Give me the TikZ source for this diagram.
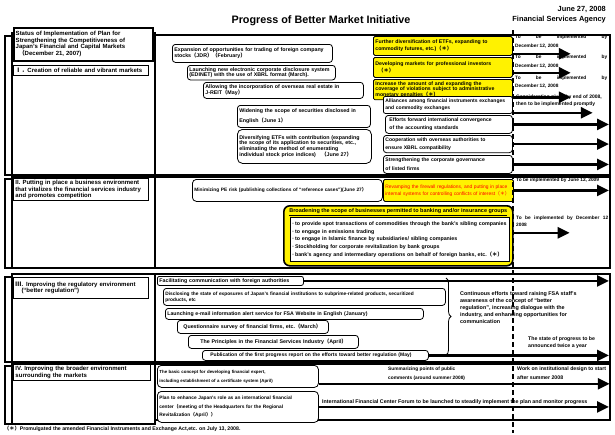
\documentclass[tikz,border=0pt]{standalone}
\usepackage{fontspec}
\setmainfont{Liberation Sans}
\newfontfamily\cjk{Noto Sans CJK JP}
\usetikzlibrary{arrows.meta,decorations.pathreplacing}

\newcommand\fwl{{\cjk （}}
\newcommand\fwr{{\cjk ）}}
\newcommand\fwstar{{\cjk （＊）}}
\newcommand\fsz[2]{\fontsize{#1}{#2}\selectfont}
\newcommand\spread[2]{\makebox[#1][s]{#2}}

\tikzset{
	panel/.style={line width=1.1pt},
	header/.style={draw, line width=1pt, fill=white, anchor=north west, align=left, inner sep=2pt, font=\fsz{6}{6.4}\bfseries},
	item/.style={draw, line width=0.8pt, rounded corners=3pt, fill=white, anchor=north west, align=left, inner sep=2pt, font=\fsz{5.3}{6}\bfseries},
	yitem/.style={item, fill=yellow, rounded corners=1.5pt, font=\fsz{5.2}{5.4}\bfseries},
	note/.style={anchor=north west, align=left, inner sep=0pt, font=\fsz{4.8}{8.5}\bfseries},
	bigarrow/.style={line width=2.6pt, -{Triangle[length=12pt,width=11pt]}},
	dashline/.style={line width=1.5pt, dash pattern=on 5pt off 3pt}
}

\begin{document}
\begin{tikzpicture}[x=1pt, y=-1pt]
		\useasboundingbox (0,0) rectangle (615,434);
		% Coordinates
		\coordinate (rim) at (609,0);
		
		% Title
		\node[font=\fsz{10.8}{12}\bfseries] (title) at (321,21) {Progress of Better Market Initiative};
		\node[anchor=east, inner sep=0pt, font=\fsz{7.4}{8}\bfseries] (date) at (606,9) {June 27, 2008};
		\node[anchor=east, inner sep=0pt, font=\fsz{7.4}{8}\bfseries] (fsa) at (606,19.5) {Financial Services Agency};
		
		% Section frames
		\draw[panel] (12,33) rectangle (155,175);
		\draw[panel] (12,36) -| (5,175) -- (12,175);
		\draw[panel] (155,35) rectangle (610,175);
		\draw[panel] (12,177) rectangle (155,268);
		\draw[panel] (12,179) -| (5,268) -- (12,268);
		\draw[panel] (155,177) rectangle (610,268);
		\draw[panel] (12,274) rectangle (155,362);
		\draw[panel] (12,277) -| (5,362) -- (12,362);
		\draw[panel] (155,274) rectangle (610,362);
		\draw[panel] (12,364) rectangle (155,424);
		\draw[panel] (12,366) -| (5,424) -- (12,424);
		\draw[panel] (155,364) rectangle (610,420);
		
		% Left headers
		\node[header, line width=1.5pt, text width=135pt, minimum height=33pt] (plan) at (13,27) {Status of Implementation of Plan for\\Strengthening the Competitiveness of\\Japan's Financial and Capital Markets\\\hspace{3pt}\fwl December 21, 2007)};
		\node[header, text width=131pt, minimum height=10pt] (sec1) at (13,65) {{\cjk Ⅰ．}Creation of reliable and vibrant markets};
		\node[header, text width=131pt, minimum height=22pt] (sec2) at (13,178) {II. Putting in place a business environment\\that vitalizes the financial services industry\\and promotes competition};
		\node[header, text width=131pt, minimum height=21pt] (sec3) at (13,277) {{\cjk Ⅲ}. Improving the regulatory environment\\\hspace{6pt}(``better regulation'')};
		\node[header, text width=133pt, minimum height=16pt] (sec4) at (13,364) {IV. Improving the broader environment\\surrounding the markets};
		
		% Section I
		\node[item, text width=156pt, minimum height=18pt] (jdr) at (172,44) {Expansion of opportunities for trading of foreign company\\stocks\fwl JDR\fwr\fwl February\fwr};
		\node[item, text width=144pt, minimum height=13pt, font=\fsz{5.3}{5.6}\bfseries] (edinet) at (187,65) {Launching new electronic corporate disclosure system\\(EDINET) with the use of XBRL format (March).};
		\node[item, text width=156pt, minimum height=16pt] (jreit) at (203,82) {Allowing the incorporation of overseas real estate in\\J-REIT\fwl May\fwr};
		\node[item, text width=129pt, minimum height=22pt, font=\fsz{5.3}{10}\bfseries] (english) at (237,105) {\spread{129pt}{Widening the scope of securities disclosed in}\\English\fwl June 1\fwr};
		\node[item, text width=130pt, minimum height=34pt, rounded corners=5pt, font=\fsz{5.3}{5.7}\bfseries] (etfs) at (237,129) {Diversifying ETFs with contribution (expanding\\the scope of its application to securities, etc.,\\eliminating the method of enumerating\\individual stock price indices)\quad\fwl June 27\fwr};
		
		\node[yitem, text width=135pt, minimum height=19pt] (etfcom) at (373,36) {Further diversification of ETFs, expanding to\\commodity futures, etc.)\fwstar};
		\node[yitem, text width=135pt, minimum height=20pt, font=\fsz{5.2}{7}\bfseries] (proinv) at (373,57) {\spread{135pt}{Developing markets for professional investors}\\\hspace{3pt}\fwstar};
		\node[yitem, text width=135pt, minimum height=16pt, font=\fsz{5.2}{5}\bfseries] (penalty) at (373,79) {Increase the amount of and expanding the\\coverage of violations subject to administrative\\monetary penalties\fwstar};
		\node[item, text width=125pt, minimum height=17pt, rounded corners=2pt, font=\fsz{5}{6.5}\bfseries] (alliance) at (383,96) {Alliances among financial instruments exchanges\\and commodity exchanges};
		\node[item, text width=123pt, minimum height=18pt, font=\fsz{5.1}{8.5}\bfseries] (convergence) at (385,115) {\hspace{2pt}Efforts forward international convergence\\\hspace{2pt}of the accounting standards};
		\node[item, text width=125pt, minimum height=17pt, font=\fsz{5.1}{8.5}\bfseries] (xbrl) at (383,135) {Cooperation with overseas authorities to\\ensure XBRL compatibility};
		\node[item, text width=125pt, minimum height=18pt, font=\fsz{5.1}{8.5}\bfseries] (governance) at (383,155) {Strengthening the corporate governance\\of listed firms};
		
		\node[note] (due1) at (515,35) {\spread{92pt}{To be implemented by}\\December 12, 2008};
		\node[note] (due2) at (515,55) {\spread{92pt}{To be implemented by}\\December 12, 2008};
		\node[note] (due3) at (515,75.5) {\spread{92pt}{To be implemented by}\\December 12, 2008};
		\node[note, font=\fsz{5}{7}\bfseries] (consider) at (516,95) {Consideration given by end of 2008,\\then to be implemented promptly};
		
		\draw[bigarrow] ([yshift=2pt]etfcom.south east) -- ++(58,0);
		\draw[bigarrow] ([yshift=5pt]proinv.south east) -- ++(58,0);
		\draw[bigarrow] ([yshift=3pt]penalty.south east) -- ++(58,0);
		\draw[bigarrow] ([yshift=1pt]alliance.south east) -- ++(80,0);
		\draw[bigarrow] (convergence.east) -- (convergence.east -| rim);
		\draw[bigarrow] (xbrl.east) -- (xbrl.east -| rim);
		\draw[bigarrow] (governance.east) -- (governance.east -| rim);
		
		% Section II
		\node[item, text width=186pt, minimum height=22pt, rounded corners=4pt, font=\fsz{4.8}{6}\bfseries] (pe) at (192,179) {Minimizing PE risk (publishing collections of ``reference cases'')(June 27\fwr};
		\node[yitem, text width=126pt, minimum height=22pt, text=red, font=\fsz{4.9}{7}] (firewall) at (383,179) {Revamping the firewall regulations, and putting in place\\internal systems for controlling conflicts of interest\fwstar};
		\node[draw, line width=1.6pt, fill=yellow, rounded corners=6pt, anchor=north west, minimum width=229pt, minimum height=60pt] (broad) at (283,205) {};
		\node[anchor=north, inner sep=0pt, font=\fsz{5.5}{6}\bfseries] (broadtitle) at ([yshift=-3pt]broad.north) {\underline{Broadening the scope of businesses permitted to banking and/or insurance groups}};
		\node[draw, line width=0.8pt, fill=white, anchor=north west, text width=215pt, inner sep=2pt, minimum height=44pt, align=left, font=\fsz{5.3}{7.7}\bfseries] (scope) at (290,217) {·\,to provide spot transactions of commodities through the bank's sibling companies\\·\,to engage in emissions trading\\·\,to engage in Islamic finance by subsidiaries/ sibling companies\\·\,Stockholding for corporate revitalization by bank groups\\·\,bank's agency and intermediary operations on behalf of foreign banks, etc.\fwstar};
		
		\node[note] (due4) at (516,178) {To be implemented by June 12, 2009};
		\node[note, font=\fsz{4.8}{7}\bfseries] (due5) at (516,216) {\spread{92pt}{To be implemented by December 12}\\2008};
		
		\draw[bigarrow] (firewall.east) -- (firewall.east -| rim);
		\draw[bigarrow] ([yshift=3pt]broad.east) -- ++(56,0);
		
		% Section III
		\node[item, text width=142pt, minimum height=9pt, rounded corners=2pt] (foreign) at (157,276) {Facilitating communication with foreign authorities};
		\node[item, text width=278pt, minimum height=17pt, font=\fsz{4.8}{6.2}\bfseries] (subprime) at (163,288) {Disclosing the state of exposures of Japan's financial institutions to subprime-related products, securitized\\products, etc};
		\node[item, text width=254pt, minimum height=11pt, font=\fsz{5.2}{6}\bfseries] (alert) at (165,308) {Launching e-mail information alert service for FSA Website in English (January)};
		\node[item, text width=147pt, minimum height=13pt] (survey) at (177,320) {\hspace{4pt}Questionnaire survey of financial firms, etc.\fwl March\fwr};
		\node[item, text width=166pt, minimum height=13pt] (principles) at (188,335) {\hspace{10pt}The Principles in the Financial Services Industry\fwl April\fwr};
		\node[item, text width=222pt, minimum height=10pt, font=\fsz{5}{6}\bfseries] (progress) at (202,350) {\hspace{6pt}Publication of the first progress report on the efforts toward better regulation (May)};
		
		\draw[line width=0.8pt, decorate, decoration={brace, amplitude=5pt}] (446,278) -- (446,355);
		\node[anchor=north west, inner sep=0pt, align=left, font=\fsz{5.4}{7}\bfseries] (culture) at (460,291.5) {Continuous efforts toward raising FSA staff's\\awareness of the concept of ``better\\regulation'', increasing dialogue with the\\industry, and enhancing opportunities for\\communication};
		\node[anchor=north west, inner sep=0pt, align=left, font=\fsz{5.2}{7}\bfseries] (twice) at (528,337) {The state of progress to be\\announced twice a year};
		
		\draw[bigarrow] (foreign.east) -- (foreign.east -| rim);
		\draw[bigarrow] (progress.east) -- (progress.east -| rim);
		
		% Section IV
		\node[item, text width=157pt, minimum height=22pt, rounded corners=4pt, font=\fsz{4.4}{9}\bfseries] (expert) at (157,365) {The basic concept for developing financial expert,\\including establishment of a certificate system (April)};
		\node[item, text width=157pt, minimum height=31pt, rounded corners=4pt, font=\fsz{4.8}{8.2}\bfseries] (center) at (157,391) {Plan to enhance Japan's role as an international financial\\center\fwl meeting of the Headquarters for the Regional\\Revitalization\fwl April\fwr\fwr};
		
		\node[anchor=north west, inner sep=0pt, align=left, font=\fsz{4.8}{9}\bfseries] (comments) at (388,366.5) {Summarizing points of public\\comments (around summer 2008)};
		\node[anchor=north west, inner sep=0pt, align=left, font=\fsz{5.2}{9}\bfseries] (design) at (517,366.5) {Work on institutional design to start\\after summer 2008};
		\node[anchor=south west, inner sep=0pt, font=\fsz{5.3}{6}\bfseries] (forum) at (322,404.5) {International Financial Center Forum to be launched to steadily implement the plan and monitor progress};
		
		\draw[bigarrow] ([yshift=4pt]expert.south east) -- ++(291,0);
		\draw[bigarrow] (center.east) -- (center.east -| rim);
		
		% Milestone line
		\draw[dashline] (513,30) -- (513,433);
		
		% Footnote
		\node[anchor=west, inner sep=0pt, font=\fsz{5.2}{6}\bfseries] (footnote) at (4,428.5) {\fwstar Promulgated the amended Financial Instruments and Exchange Act,etc. on July 13, 2008.};
	\end{tikzpicture}
\end{document}
